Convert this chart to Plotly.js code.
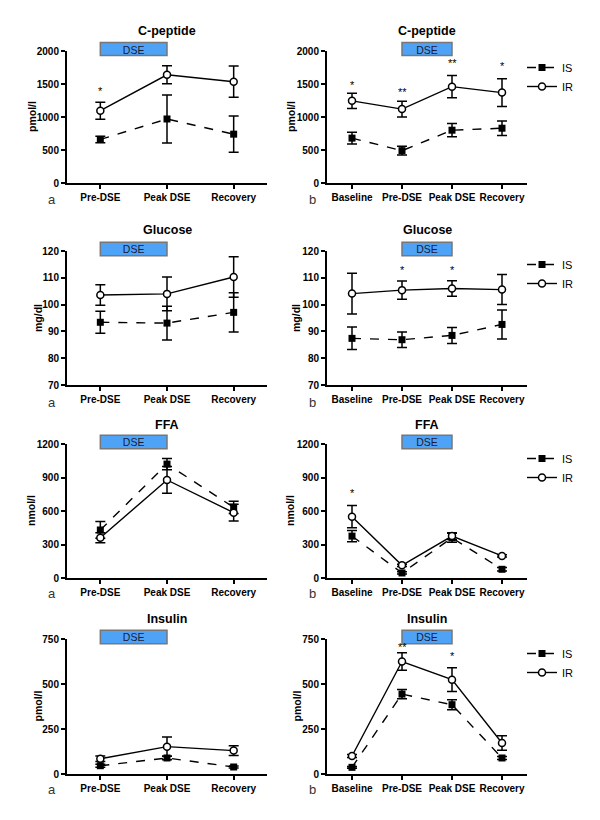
<!DOCTYPE html>
<html>
<head>
<meta charset="utf-8">
<script src="https://cdn.plot.ly/plotly-3.0.1.min.js"></script>
<style>html,body{margin:0;padding:0;background:#fff;}#chart{width:600px;height:820px;}</style>
</head>
<body>
<div id="chart"></div>
<script>
// ---------- categories ----------
const catsA = ['Pre-DSE', 'Peak DSE', 'Recovery'];
const catsB = ['Baseline', 'Pre-DSE', 'Peak DSE', 'Recovery'];

// ---------- C-peptide (pmol/l) ----------
const cpepA_IS = [660, 970, 740];
const cpepA_IS_err = [50, 365, 275];
const cpepA_IR = [1095, 1640, 1535];
const cpepA_IR_err = [130, 135, 237];
const cpepB_IS = [680, 490, 800, 830];
const cpepB_IS_err = [90, 65, 100, 110];
const cpepB_IR = [1245, 1120, 1460, 1370];
const cpepB_IR_err = [115, 120, 170, 210];

// ---------- Glucose (mg/dl) ----------
const glucA_IS = [93.4, 93.1, 97.1];
const glucA_IS_err = [4.1, 6.3, 7.3];
const glucA_IR = [103.6, 104.0, 110.3];
const glucA_IR_err = [3.8, 6.3, 7.6];
const glucB_IS = [87.4, 86.9, 88.5, 92.6];
const glucB_IS_err = [4.2, 2.9, 3.0, 5.4];
const glucB_IR = [104.1, 105.4, 106.0, 105.6];
const glucB_IR_err = [7.6, 3.4, 2.9, 5.6];

// ---------- FFA (nmol/l) ----------
const ffaA_IS = [430, 1020, 633];
const ffaA_IS_err = [75, 50, 55];
const ffaA_IR = [360, 878, 585];
const ffaA_IR_err = [45, 120, 75];
const ffaB_IS = [375, 45, 360, 78];
const ffaB_IS_err = [50, 10, 40, 15];
const ffaB_IR = [549, 114, 375, 198];
const ffaB_IR_err = [100, 10, 30, 10];

// ---------- Insulin (pmol/l) ----------
const insA_IS = [46, 89, 39];
const insA_IS_err = [8, 10, 6];
const insA_IR = [85, 152, 130];
const insA_IR_err = [15, 54, 27];
const insB_IS = [37, 444, 385, 89];
const insB_IS_err = [5, 26, 28, 8];
const insB_IR = [100, 625, 524, 172];
const insB_IR_err = [8, 48, 66, 40];

// ---------- significance markers [category, y value, text] ----------
const starsCpepA = [['Pre-DSE', 1424, '*']];
const starsCpepB = [['Baseline', 1515, '*'], ['Pre-DSE', 1409, '**'], ['Peak DSE', 1848, '**'], ['Recovery', 1803, '*']];
const starsGlucB = [['Pre-DSE', 113.7, '*'], ['Peak DSE', 113.7, '*']];
const starsFfaB = [['Baseline', 779, '*']];
const starsInsB = [['Pre-DSE', 717, '**'], ['Peak DSE', 667, '*']];

// ---------- panel text ----------
const panelTitles = ['C-peptide', 'Glucose', 'FFA', 'Insulin'];
const unitLabels = ['pmol/l', 'mg/dl', 'nmol/l', 'pmol/l'];
const yTicks = [[0, 500, 1000, 1500, 2000], [70, 80, 90, 100, 110, 120], [0, 300, 600, 900, 1200], [0, 250, 500, 750]];
const yRanges = [[0, 2000], [70, 120], [0, 1200], [0, 750]];
const seriesNames = ['IS', 'IR'];
const dseLabel = 'DSE';

const panels = [
  {cats: catsA, IS: cpepA_IS, ISe: cpepA_IS_err, IR: cpepA_IR, IRe: cpepA_IR_err, stars: starsCpepA, tag: 'a'},
  {cats: catsB, IS: cpepB_IS, ISe: cpepB_IS_err, IR: cpepB_IR, IRe: cpepB_IR_err, stars: starsCpepB, tag: 'b'},
  {cats: catsA, IS: glucA_IS, ISe: glucA_IS_err, IR: glucA_IR, IRe: glucA_IR_err, stars: [], tag: 'a'},
  {cats: catsB, IS: glucB_IS, ISe: glucB_IS_err, IR: glucB_IR, IRe: glucB_IR_err, stars: starsGlucB, tag: 'b'},
  {cats: catsA, IS: ffaA_IS, ISe: ffaA_IS_err, IR: ffaA_IR, IRe: ffaA_IR_err, stars: [], tag: 'a'},
  {cats: catsB, IS: ffaB_IS, ISe: ffaB_IS_err, IR: ffaB_IR, IRe: ffaB_IR_err, stars: starsFfaB, tag: 'b'},
  {cats: catsA, IS: insA_IS, ISe: insA_IS_err, IR: insA_IR, IRe: insA_IR_err, stars: [], tag: 'a'},
  {cats: catsB, IS: insB_IS, ISe: insB_IS_err, IR: insB_IR, IRe: insB_IR_err, stars: starsInsB, tag: 'b'}
];

const W = 600, H = 820;
const FONT = 'Arial, "Liberation Sans", sans-serif';
// pixel layout
const xDomPx = [[67, 267], [327, 527]];
const yDomPx = [[51, 183], [251, 385], [444, 578], [639, 774]];
const titleYPx = [31, 230, 425, 619];
const tagYPx = [199, 402, 593, 789];
const tagXPx = [52, 313];
const unitXPx = [[32, 291], [38, 296], [31, 290], [37, 296]];
const legendTopPx = [53, 250, 444, 639];

const traces = [];
const layout = {
  width: W, height: H,
  margin: {l: 0, r: 0, t: 0, b: 0},
  paper_bgcolor: 'white', plot_bgcolor: 'white',
  font: {family: FONT, color: 'black'},
  annotations: [], shapes: []
};

const errStyle = (arr) => ({type: 'data', array: arr, visible: true, color: 'black', thickness: 1.5, width: 5});

panels.forEach((p, i) => {
  const n = i + 1;
  const row = Math.floor(i / 2), col = i % 2;
  const xa = 'x' + (n === 1 ? '' : n), ya = 'y' + (n === 1 ? '' : n);
  const xk = 'xaxis' + (n === 1 ? '' : n), yk = 'yaxis' + (n === 1 ? '' : n);
  const legendId = col === 1 ? (row === 0 ? 'legend' : 'legend' + (row + 1)) : 'legend';
  const showLeg = col === 1;

  traces.push({
    type: 'scatter', mode: 'lines+markers', name: seriesNames[0],
    x: p.cats, y: p.IS, xaxis: xa, yaxis: ya,
    error_y: errStyle(p.ISe),
    line: {color: 'black', width: 1.4, dash: 'dash'},
    marker: {symbol: 'square', size: 7, color: 'black'},
    showlegend: showLeg, legend: legendId, cliponaxis: false
  });
  traces.push({
    type: 'scatter', mode: 'lines+markers', name: seriesNames[1],
    x: p.cats, y: p.IR, xaxis: xa, yaxis: ya,
    error_y: errStyle(p.IRe),
    line: {color: 'black', width: 1.4},
    marker: {symbol: 'circle', size: 7, color: 'white', line: {color: 'black', width: 1.5}},
    showlegend: showLeg, legend: legendId, cliponaxis: false
  });

  const axCommon = {
    showline: true, linewidth: 2, linecolor: 'black', mirror: false,
    ticks: 'outside', ticklen: 4, tickwidth: 2, tickcolor: 'black',
    showgrid: false, zeroline: false, fixedrange: true,
    tickfont: {family: FONT, size: 10, weight: 'bold', color: 'black'}
  };
  layout[xk] = Object.assign({}, axCommon, {
    type: 'category', categoryarray: p.cats, categoryorder: 'array',
    domain: [xDomPx[col][0] / W, xDomPx[col][1] / W],
    range: [-0.5, p.cats.length - 0.5],
    anchor: ya
  });
  layout[yk] = Object.assign({}, axCommon, {
    domain: [1 - yDomPx[row][1] / H, 1 - yDomPx[row][0] / H],
    range: yRanges[row], tickvals: yTicks[row],
    anchor: xa
  });

  // y-axis unit label
  layout.annotations.push({
    xref: 'paper', yref: 'paper',
    x: unitXPx[row][col] / W, y: 1 - (yDomPx[row][0] + yDomPx[row][1]) / 2 / H,
    text: unitLabels[row], textangle: -90, showarrow: false,
    xanchor: 'center', yanchor: 'middle',
    font: {family: FONT, size: 10.5, weight: 'bold', color: 'black'}
  });

  // DSE box
  const c0 = p.cats.indexOf('Pre-DSE'), c1 = p.cats.indexOf('Peak DSE');
  layout.shapes.push({
    type: 'rect', xref: xa, yref: ya + ' domain',
    x0: p.cats[c0], x1: p.cats[c1], y0: 0.965, y1: 1.065,
    fillcolor: '#4FA3F7', line: {color: '#777777', width: 1.5}, layer: 'above',
    label: {text: dseLabel, font: {family: FONT, size: 10.5, color: '#1a1a3a'}, textposition: 'middle center'}
  });

  // stars
  p.stars.forEach(s => {
    layout.annotations.push({
      xref: xa, yref: ya, x: s[0], y: s[1], text: s[2], showarrow: false,
      font: {family: FONT, size: 11, color: 'black'}, yanchor: 'middle', yshift: -2
    });
  });

  // panel title
  layout.annotations.push({
    xref: 'paper', yref: 'paper',
    x: (xDomPx[col][0] + xDomPx[col][1]) / 2 / W, y: 1 - titleYPx[row] / H,
    text: panelTitles[row], showarrow: false, xanchor: 'center', yanchor: 'middle',
    font: {family: FONT, size: 12.5, weight: 'bold', color: 'black'}
  });
  // panel tag
  layout.annotations.push({
    xref: 'paper', yref: 'paper', x: tagXPx[col] / W, y: 1 - tagYPx[row] / H,
    text: p.tag, showarrow: false, xanchor: 'center', yanchor: 'middle',
    font: {family: FONT, size: 13, color: '#333333'}
  });

  if (col === 1) {
    const lk = row === 0 ? 'legend' : 'legend' + (row + 1);
    layout[lk] = {
      x: 522 / W, xanchor: 'left', y: 1 - legendTopPx[row] / H, yanchor: 'top',
      bgcolor: 'rgba(0,0,0,0)', borderwidth: 0,
      font: {family: FONT, size: 11, color: 'black'},
      itemwidth: 30, tracegroupgap: 0
    };
  }
});

Plotly.newPlot('chart', traces, layout, {staticPlot: true, displayModeBar: false});
</script>
</body>
</html>
